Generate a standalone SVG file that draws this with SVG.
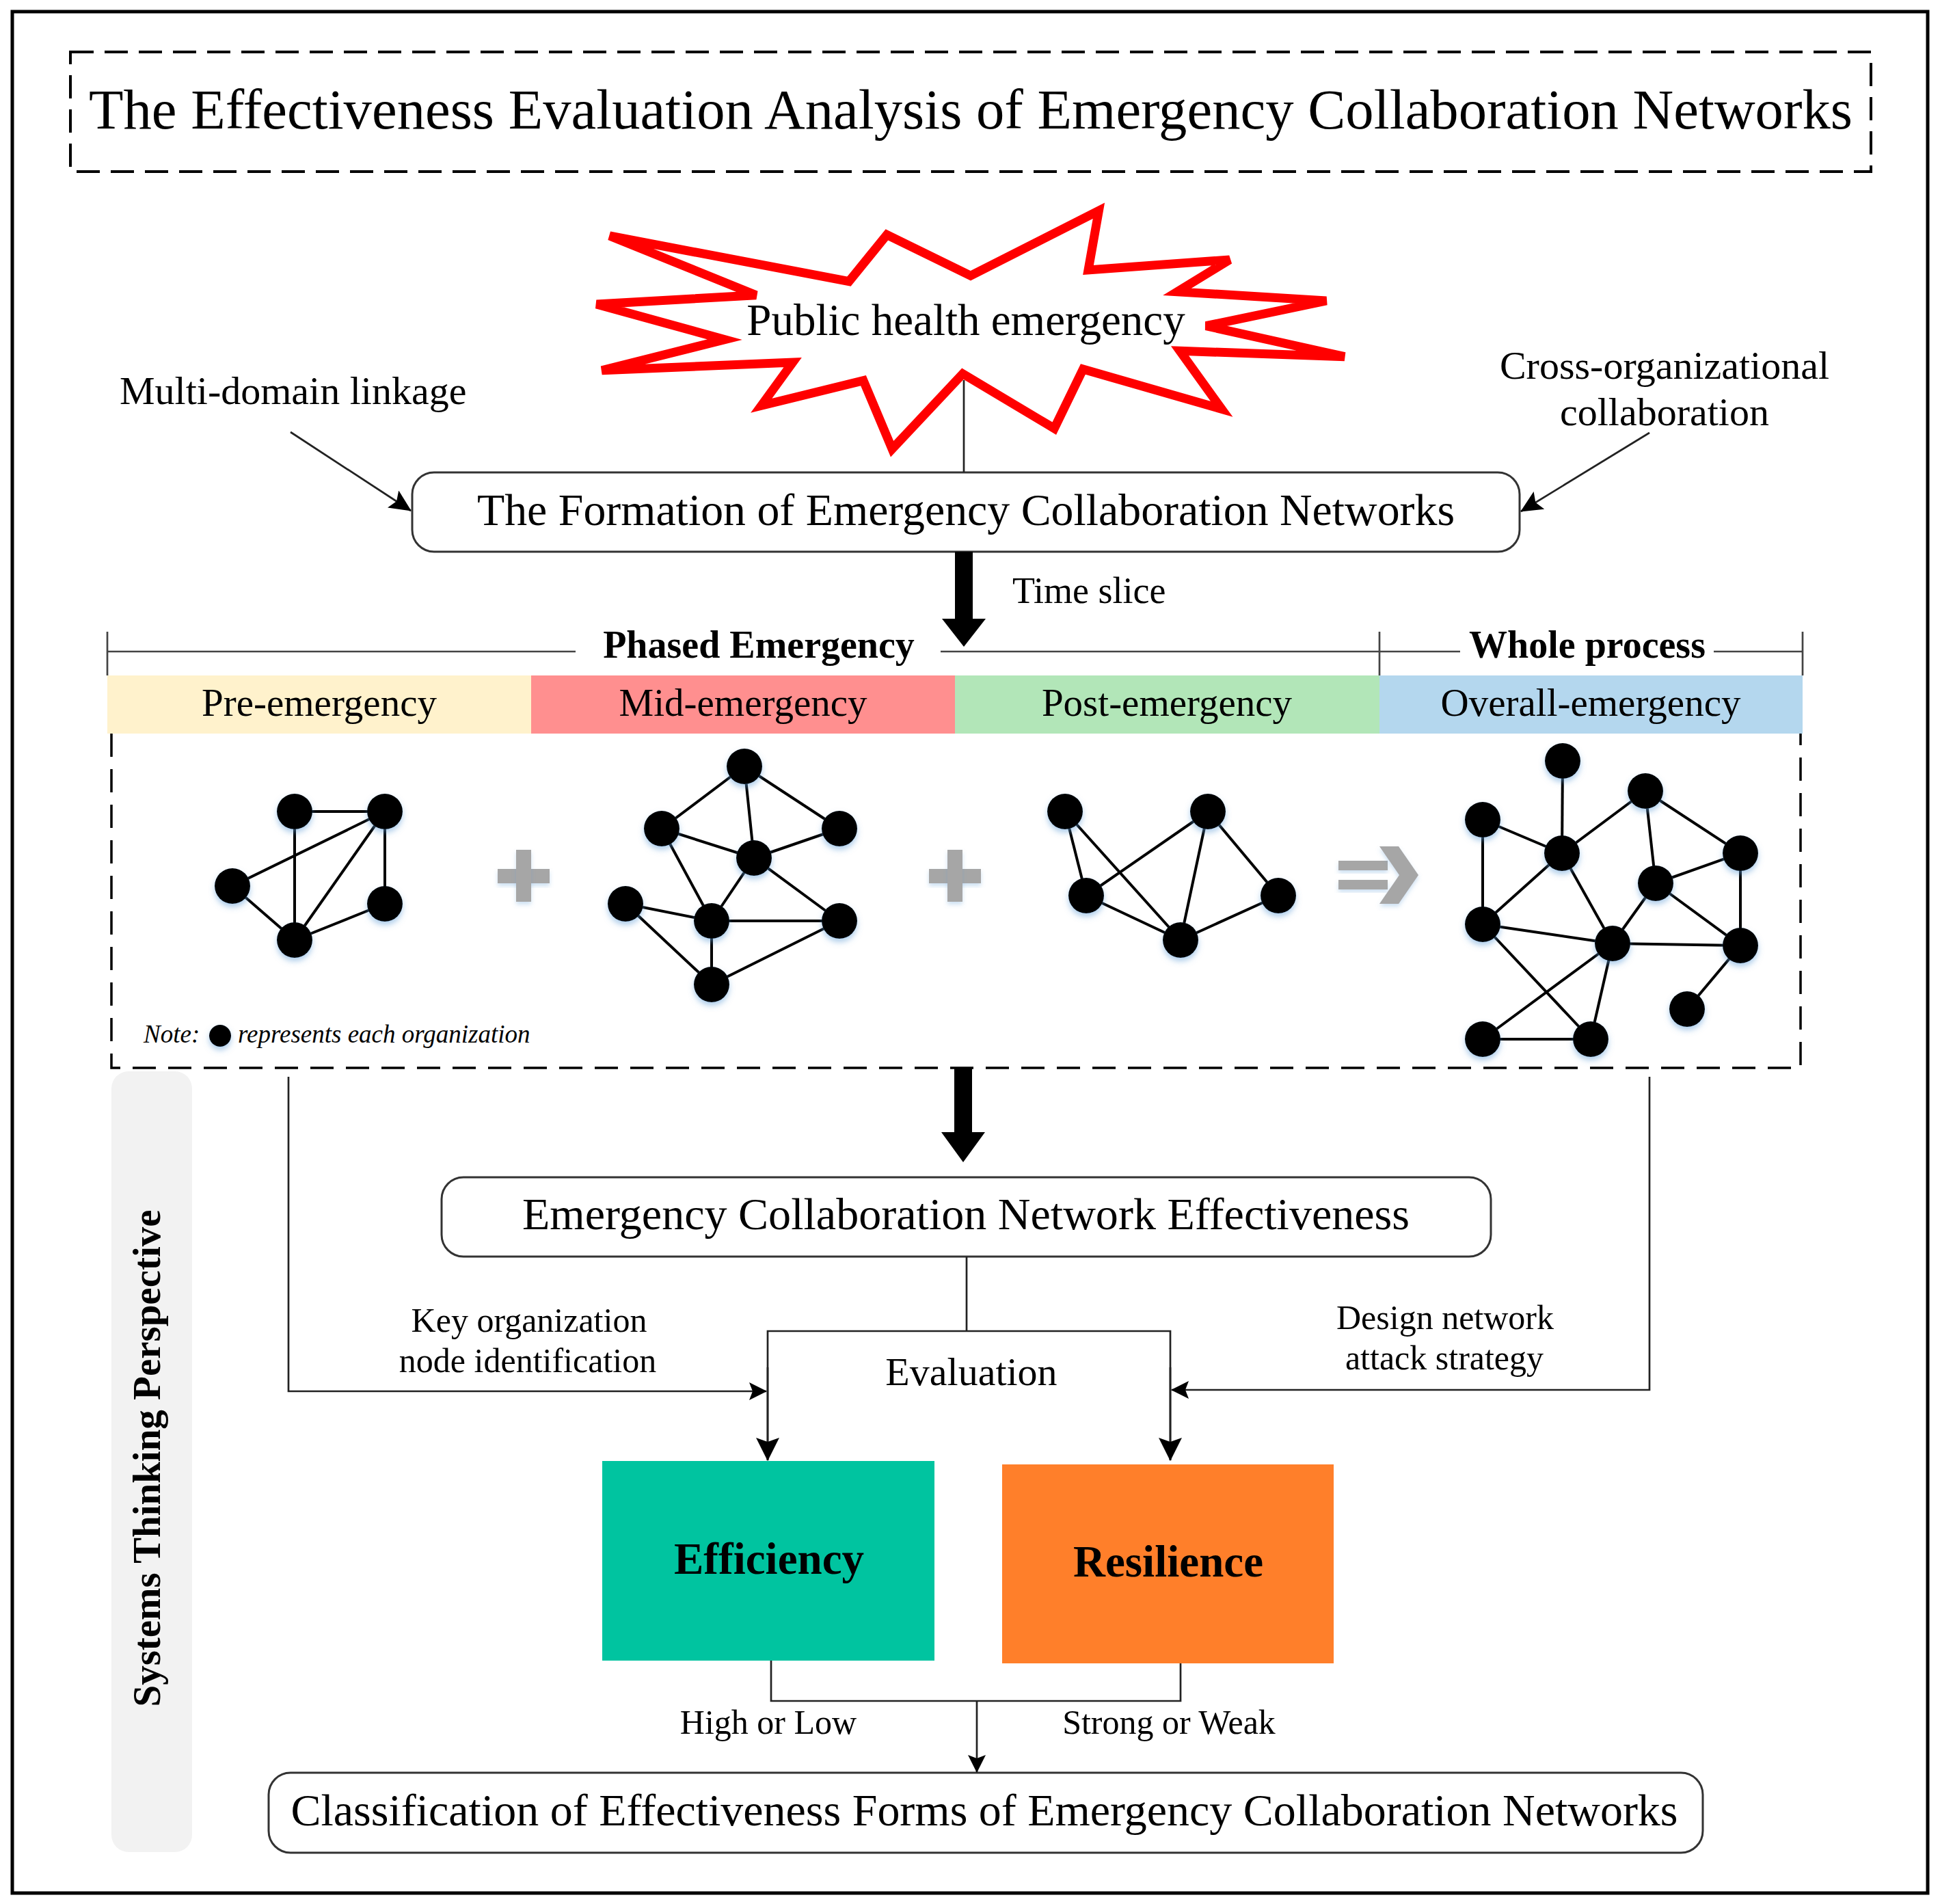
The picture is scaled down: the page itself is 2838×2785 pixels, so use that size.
<svg xmlns="http://www.w3.org/2000/svg" width="2838" height="2785" viewBox="0 0 2838 2785">
<style>
text{font-family:"Liberation Serif","Times New Roman",serif;fill:#000}
.t65{font-size:65px}
.t58{font-size:58px}
.t57{font-size:57px}
.t50{font-size:50px}
.b{font-weight:bold}
.box{fill:#fff;stroke:#333;stroke-width:3}
.ln{fill:none;stroke:#222;stroke-width:2.7}
.e{stroke:#000;stroke-width:4}
.n{fill:#000;filter:url(#sh)}
.gray{fill:#A6A6A6;filter:url(#sh2)}
</style>
<defs>
<filter id="sh" x="-50%" y="-50%" width="200%" height="200%">
<feDropShadow dx="0" dy="5" stdDeviation="4" flood-color="#5B9BD5" flood-opacity="0.5"/>
</filter>
<filter id="sh2" x="-30%" y="-30%" width="160%" height="160%">
<feDropShadow dx="0" dy="4" stdDeviation="3" flood-color="#5B9BD5" flood-opacity="0.3"/>
</filter>
<marker id="arrM" markerUnits="userSpaceOnUse" markerWidth="32" markerHeight="30" refX="31" refY="15" orient="auto">
<path d="M0,0 L32,15 L0,30 L6,15 z" fill="#000"/>
</marker>
<marker id="arrS" markerUnits="userSpaceOnUse" markerWidth="26" markerHeight="26" refX="25" refY="13" orient="auto">
<path d="M0,0 L26,13 L0,26 L5,13 z" fill="#000"/>
</marker>
<marker id="arrD" markerUnits="userSpaceOnUse" markerWidth="34" markerHeight="34" refX="33" refY="17" orient="auto">
<path d="M0,0 L34,17 L0,34 L6,17 z" fill="#000"/>
</marker>
</defs>

<rect x="0" y="0" width="2838" height="2785" fill="#fff"/>
<rect id="frame" x="18" y="17" width="2802" height="2752" fill="#fff" stroke="#000" stroke-width="5"/>

<g id="title">
<rect x="103" y="76" width="2634" height="175" fill="none" stroke="#000" stroke-width="4" stroke-dasharray="34 16"/>
<text x="1420" y="188" font-size="82" text-anchor="middle" textLength="2580" lengthAdjust="spacingAndGlyphs">The Effectiveness Evaluation Analysis of Emergency Collaboration Networks</text>
</g>

<g id="star">
<polygon points="891.8,345 1242,411.7 1297.4,343.3 1419.9,403.3 1607.4,308.3 1592,395 1798.7,380 1722.2,426.7 1940.3,440 1764.3,476.7 1967,521.7 1726,513.3 1787.2,598.3 1584.4,540 1542.3,626.7 1408.4,546.7 1305.1,656.7 1263,556.7 1113.8,593.3 1159.7,530 880.4,541.7 1060.2,496.7 872.7,445 1106.1,431.7" fill="#fff" stroke="#FF0000" stroke-width="13" stroke-linejoin="miter"/>
<text class="t65" x="1413" y="490" text-anchor="middle">Public health emergency</text>
</g>

<g id="multi-domain">
<text class="t58" x="175" y="591">Multi-domain linkage</text>
</g>
<g id="cross-org">
<text class="t58" x="2435" y="554" text-anchor="middle">Cross-organizational</text>
<text class="t58" x="2435" y="622" text-anchor="middle">collaboration</text>
</g>

<g id="formation">
<rect class="box" x="603" y="691" width="1620" height="116" rx="32"/>
<text class="t65" x="1413" y="768" text-anchor="middle" textLength="1430" lengthAdjust="spacingAndGlyphs">The Formation of Emergency Collaboration Networks</text>
</g>

<g id="time-slice">
<text font-size="54" x="1481" y="882">Time slice</text>
</g>

<g id="phase-header">
<g stroke="#444" stroke-width="2.7">
<line x1="157" y1="953" x2="842" y2="953"/>
<line x1="1376" y1="953" x2="2136" y2="953"/>
<line x1="2507" y1="953" x2="2637" y2="953"/>
<line x1="157" y1="924" x2="157" y2="988"/>
<line x1="2018" y1="924" x2="2018" y2="988"/>
<line x1="2637" y1="924" x2="2637" y2="988"/>
</g>
<text class="b" font-size="56" x="1110" y="962" text-anchor="middle">Phased Emergency</text>
<text class="b" font-size="56" x="2322" y="962" text-anchor="middle">Whole process</text>
</g>

<g id="pre-emergency">
<rect x="157" y="988" width="620" height="85" fill="#FFF2CC"/>
<text class="t57" x="467" y="1047" text-anchor="middle">Pre-emergency</text>
</g>
<g id="mid-emergency">
<rect x="777" y="988" width="620" height="85" fill="#FF8F8F"/>
<text class="t57" x="1087" y="1047" text-anchor="middle">Mid-emergency</text>
</g>
<g id="post-emergency">
<rect x="1397" y="988" width="621" height="85" fill="#B2E6B8"/>
<text class="t57" x="1707" y="1047" text-anchor="middle">Post-emergency</text>
</g>
<g id="overall-emergency">
<rect x="2018" y="988" width="619" height="85" fill="#B4D7EE"/>
<text class="t57" x="2327" y="1047" text-anchor="middle">Overall-emergency</text>
</g>

<g id="network-frame">
<path d="M163,1073 V1562 H2634 V1073" fill="none" stroke="#000" stroke-width="3.5" stroke-dasharray="34 18"/>
</g>

<g id="net-pre">
<g class="e">
<line x1="431" y1="1187" x2="563" y2="1187"/>
<line x1="431" y1="1187" x2="431" y2="1375"/>
<line x1="563" y1="1187" x2="340" y2="1296"/>
<line x1="563" y1="1187" x2="431" y2="1375"/>
<line x1="563" y1="1187" x2="563" y2="1322"/>
<line x1="340" y1="1296" x2="431" y2="1375"/>
<line x1="563" y1="1322" x2="431" y2="1375"/>
</g>
<circle class="n" cx="431" cy="1187" r="26"/>
<circle class="n" cx="563" cy="1187" r="26"/>
<circle class="n" cx="340" cy="1296" r="26"/>
<circle class="n" cx="563" cy="1322" r="26"/>
<circle class="n" cx="431" cy="1375" r="26"/>
</g>

<g id="plus-1">
<rect class="gray" x="728" y="1271" width="76" height="21"/>
<rect class="gray" x="755" y="1243" width="22" height="76"/>
</g>

<g id="net-mid">
<g class="e">
<line x1="1089" y1="1121" x2="968" y2="1212"/>
<line x1="1089" y1="1121" x2="1103" y2="1255"/>
<line x1="1089" y1="1121" x2="1228" y2="1212"/>
<line x1="968" y1="1212" x2="1103" y2="1255"/>
<line x1="1103" y1="1255" x2="1228" y2="1212"/>
<line x1="968" y1="1212" x2="1041" y2="1347"/>
<line x1="1103" y1="1255" x2="1041" y2="1347"/>
<line x1="1103" y1="1255" x2="1228" y2="1347"/>
<line x1="915" y1="1322" x2="1041" y2="1347"/>
<line x1="1041" y1="1347" x2="1228" y2="1347"/>
<line x1="1041" y1="1347" x2="1041" y2="1440"/>
<line x1="915" y1="1322" x2="1041" y2="1440"/>
<line x1="1041" y1="1440" x2="1228" y2="1347"/>
</g>
<circle class="n" cx="1089" cy="1121" r="26"/>
<circle class="n" cx="968" cy="1212" r="26"/>
<circle class="n" cx="1228" cy="1212" r="26"/>
<circle class="n" cx="1103" cy="1255" r="26"/>
<circle class="n" cx="915" cy="1322" r="26"/>
<circle class="n" cx="1041" cy="1347" r="26"/>
<circle class="n" cx="1228" cy="1347" r="26"/>
<circle class="n" cx="1041" cy="1440" r="26"/>
</g>

<g id="plus-2">
<rect class="gray" x="1359" y="1271" width="76" height="21"/>
<rect class="gray" x="1386" y="1243" width="22" height="76"/>
</g>

<g id="net-post">
<g class="e">
<line x1="1558" y1="1187" x2="1589" y2="1310"/>
<line x1="1558" y1="1187" x2="1727" y2="1375"/>
<line x1="1767" y1="1187" x2="1589" y2="1310"/>
<line x1="1767" y1="1187" x2="1727" y2="1375"/>
<line x1="1767" y1="1187" x2="1870" y2="1310"/>
<line x1="1589" y1="1310" x2="1727" y2="1375"/>
<line x1="1870" y1="1310" x2="1727" y2="1375"/>
</g>
<circle class="n" cx="1558" cy="1187" r="26"/>
<circle class="n" cx="1767" cy="1187" r="26"/>
<circle class="n" cx="1589" cy="1310" r="26"/>
<circle class="n" cx="1870" cy="1310" r="26"/>
<circle class="n" cx="1727" cy="1375" r="26"/>
</g>

<g id="implies">
<rect class="gray" x="1958" y="1259" width="72" height="14"/>
<rect class="gray" x="1958" y="1287" width="72" height="14"/>
<polygon class="gray" points="2018,1238 2046,1238 2075,1280 2046,1322 2018,1322 2047,1280"/>
</g>

<g id="net-overall">
<g class="e">
<line x1="2286" y1="1113" x2="2285" y2="1248"/>
<line x1="2169" y1="1199" x2="2285" y2="1248"/>
<line x1="2169" y1="1199" x2="2169" y2="1352"/>
<line x1="2407" y1="1157" x2="2285" y2="1248"/>
<line x1="2407" y1="1157" x2="2422" y2="1292"/>
<line x1="2407" y1="1157" x2="2546" y2="1248"/>
<line x1="2546" y1="1248" x2="2422" y2="1292"/>
<line x1="2546" y1="1248" x2="2546" y2="1383"/>
<line x1="2285" y1="1248" x2="2169" y2="1352"/>
<line x1="2285" y1="1248" x2="2359" y2="1380"/>
<line x1="2422" y1="1292" x2="2359" y2="1380"/>
<line x1="2422" y1="1292" x2="2546" y2="1383"/>
<line x1="2169" y1="1352" x2="2359" y2="1380"/>
<line x1="2359" y1="1380" x2="2546" y2="1383"/>
<line x1="2169" y1="1352" x2="2327" y2="1520"/>
<line x1="2359" y1="1380" x2="2169" y2="1520"/>
<line x1="2359" y1="1380" x2="2327" y2="1520"/>
<line x1="2546" y1="1383" x2="2468" y2="1476"/>
<line x1="2169" y1="1520" x2="2327" y2="1520"/>
</g>
<circle class="n" cx="2286" cy="1113" r="26"/>
<circle class="n" cx="2407" cy="1157" r="26"/>
<circle class="n" cx="2169" cy="1199" r="26"/>
<circle class="n" cx="2285" cy="1248" r="26"/>
<circle class="n" cx="2546" cy="1248" r="26"/>
<circle class="n" cx="2422" cy="1292" r="26"/>
<circle class="n" cx="2169" cy="1352" r="26"/>
<circle class="n" cx="2359" cy="1380" r="26"/>
<circle class="n" cx="2546" cy="1383" r="26"/>
<circle class="n" cx="2468" cy="1476" r="26"/>
<circle class="n" cx="2169" cy="1520" r="26"/>
<circle class="n" cx="2327" cy="1520" r="26"/>
</g>

<g id="note">
<text font-size="37" font-style="italic" x="210" y="1525">Note:</text>
<circle class="n" cx="322" cy="1515" r="16"/>
<text font-size="37" font-style="italic" x="348" y="1525">represents each organization</text>
</g>

<g id="systems-band">
<rect x="163" y="1567" width="118" height="1142" rx="25" fill="#F2F2F2"/>
<text class="b" font-size="57" transform="translate(234,2133) rotate(-90)" x="0" y="0" text-anchor="middle" textLength="727" lengthAdjust="spacingAndGlyphs">Systems Thinking Perspective</text>
</g>

<g id="effectiveness">
<rect class="box" x="646" y="1722" width="1535" height="116" rx="32"/>
<text class="t65" x="1413" y="1798" text-anchor="middle" textLength="1298" lengthAdjust="spacingAndGlyphs">Emergency Collaboration Network Effectiveness</text>
</g>

<g id="evaluation">
<text class="t58" x="1421" y="2026" text-anchor="middle">Evaluation</text>
</g>
<g id="key-org">
<text class="t50" x="774" y="1948" text-anchor="middle">Key organization</text>
<text class="t50" x="772" y="2007" text-anchor="middle">node identification</text>
</g>
<g id="design-attack">
<text class="t50" x="2114" y="1944" text-anchor="middle">Design network</text>
<text class="t50" x="2113" y="2003" text-anchor="middle">attack strategy</text>
</g>

<g id="efficiency">
<rect x="881" y="2137" width="486" height="292" fill="#00C4A0"/>
<text class="b" font-size="65" x="1125" y="2302" text-anchor="middle">Efficiency</text>
</g>
<g id="resilience">
<rect x="1466" y="2142" width="485" height="291" fill="#FF7F2A"/>
<text class="b" font-size="65" x="1709" y="2306" text-anchor="middle">Resilience</text>
</g>

<g id="outcome-labels">
<text class="t50" x="1124" y="2536" text-anchor="middle">High or Low</text>
<text class="t50" x="1710" y="2536" text-anchor="middle">Strong or Weak</text>
</g>

<g id="classification">
<rect class="box" x="393" y="2593" width="2098" height="117" rx="32"/>
<text class="t65" x="1440" y="2670" text-anchor="middle" textLength="2029" lengthAdjust="spacingAndGlyphs">Classification of Effectiveness Forms of Emergency Collaboration Networks</text>
</g>

<g id="connectors">
<line class="ln" x1="1410" y1="556" x2="1410" y2="691"/>
<line class="ln" x1="425" y1="632" x2="601" y2="747" marker-end="url(#arrM)"/>
<line class="ln" x1="2413" y1="633" x2="2225" y2="748" marker-end="url(#arrM)"/>
<rect x="1397" y="807" width="26" height="99" fill="#000"/>
<polygon points="1378,905 1442,905 1410,946" fill="#000"/>
<rect x="1396" y="1563" width="26" height="94" fill="#000"/>
<polygon points="1377,1656 1441,1656 1409,1700" fill="#000"/>
<polyline class="ln" points="1414,1838 1414,1947"/>
<polyline class="ln" points="1123,2136 1123,1947 1712,1947 1712,2136"/>
<line class="ln" x1="1123" y1="2000" x2="1123" y2="2136" marker-end="url(#arrD)"/>
<line class="ln" x1="1712" y1="2000" x2="1712" y2="2136" marker-end="url(#arrD)"/>
<polyline class="ln" points="422,1575 422,2035 1121,2035" marker-end="url(#arrS)"/>
<polyline class="ln" points="2413,1575 2413,2033 1714,2033" marker-end="url(#arrS)"/>
<polyline class="ln" points="1128,2429 1128,2488 1727,2488 1727,2433"/>
<line class="ln" x1="1429" y1="2488" x2="1429" y2="2592" marker-end="url(#arrS)"/>
</g>
</svg>
